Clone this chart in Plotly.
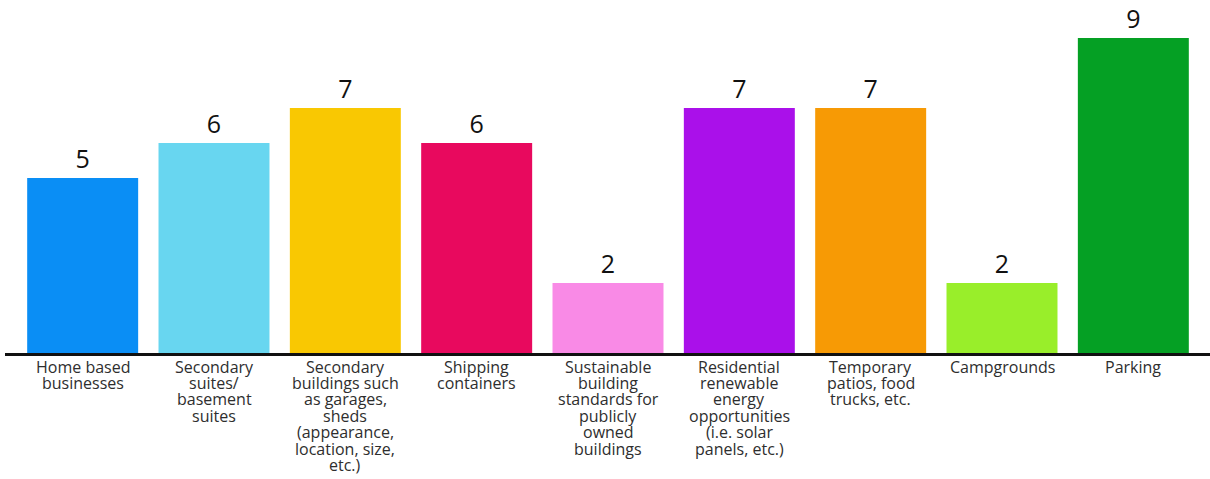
import plotly.graph_objects as go

categories = [
    "Home based<br>businesses",
    "Secondary<br>suites/<br>basement<br>suites",
    "Secondary<br>buildings such<br>as garages,<br>sheds<br>(appearance,<br>location, size,<br>etc.)",
    "Shipping<br>containers",
    "Sustainable<br>building<br>standards for<br>publicly<br>owned<br>buildings",
    "Residential<br>renewable<br>energy<br>opportunities<br>(i.e. solar<br>panels, etc.)",
    "Temporary<br>patios, food<br>trucks, etc.",
    "Campgrounds",
    "Parking",
]
values = [5, 6, 7, 6, 2, 7, 7, 2, 9]
colors = ["#0A8EF5", "#68D6F0", "#F9C802", "#E8095E", "#F98AE6",
          "#AA10EA", "#F79A05", "#99EE2A", "#05A024"]

W, H = 1210, 479
left, right, top, bottom = 17, 11, 3, 126
plot_w = W - left - right
plot_h = H - top - bottom
y_max = 10

LABEL_SIZE = 16
LINE_PITCH = 16.4   # tight leading for the category labels

fig = go.Figure(
    go.Bar(
        x=list(range(len(values))),
        y=values,
        marker=dict(color=colors, line=dict(width=0)),
        text=[str(v) for v in values],
        textposition="outside",
        textfont=dict(family="Open Sans", size=25, color="#111111"),
        cliponaxis=False,
        hoverinfo="skip",
    )
)

# baseline running past both edges of the plot area, sitting just under the bars
line_y = -1.5 / plot_h
fig.add_shape(
    type="line", xref="paper", yref="paper",
    x0=(5 - left) / plot_w, x1=(W - left) / plot_w, y0=line_y, y1=line_y,
    line=dict(color="#111111", width=3),
)

# category labels, one annotation per line so the leading can be set
for i, label in enumerate(categories):
    for k, part in enumerate(label.split("<br>")):
        fig.add_annotation(
            x=i, y=0, xref="x", yref="y",
            text=part, showarrow=False,
            xanchor="center", yanchor="top",
            yshift=-(0.5 + k * LINE_PITCH),
            font=dict(family="Open Sans", size=LABEL_SIZE, color="#2E2E2E"),
        )

fig.update_layout(
    width=W, height=H,
    margin=dict(l=left, r=right, t=top, b=bottom, pad=0),
    paper_bgcolor="white", plot_bgcolor="white",
    bargap=0.155,
    showlegend=False,
    xaxis=dict(
        range=[-0.5, len(values) - 0.5],
        showgrid=False, zeroline=False, showline=False, ticks="",
        showticklabels=False,
    ),
    yaxis=dict(range=[0, y_max], visible=False, showgrid=False, zeroline=False),
)

fig.write_html("out.html")
